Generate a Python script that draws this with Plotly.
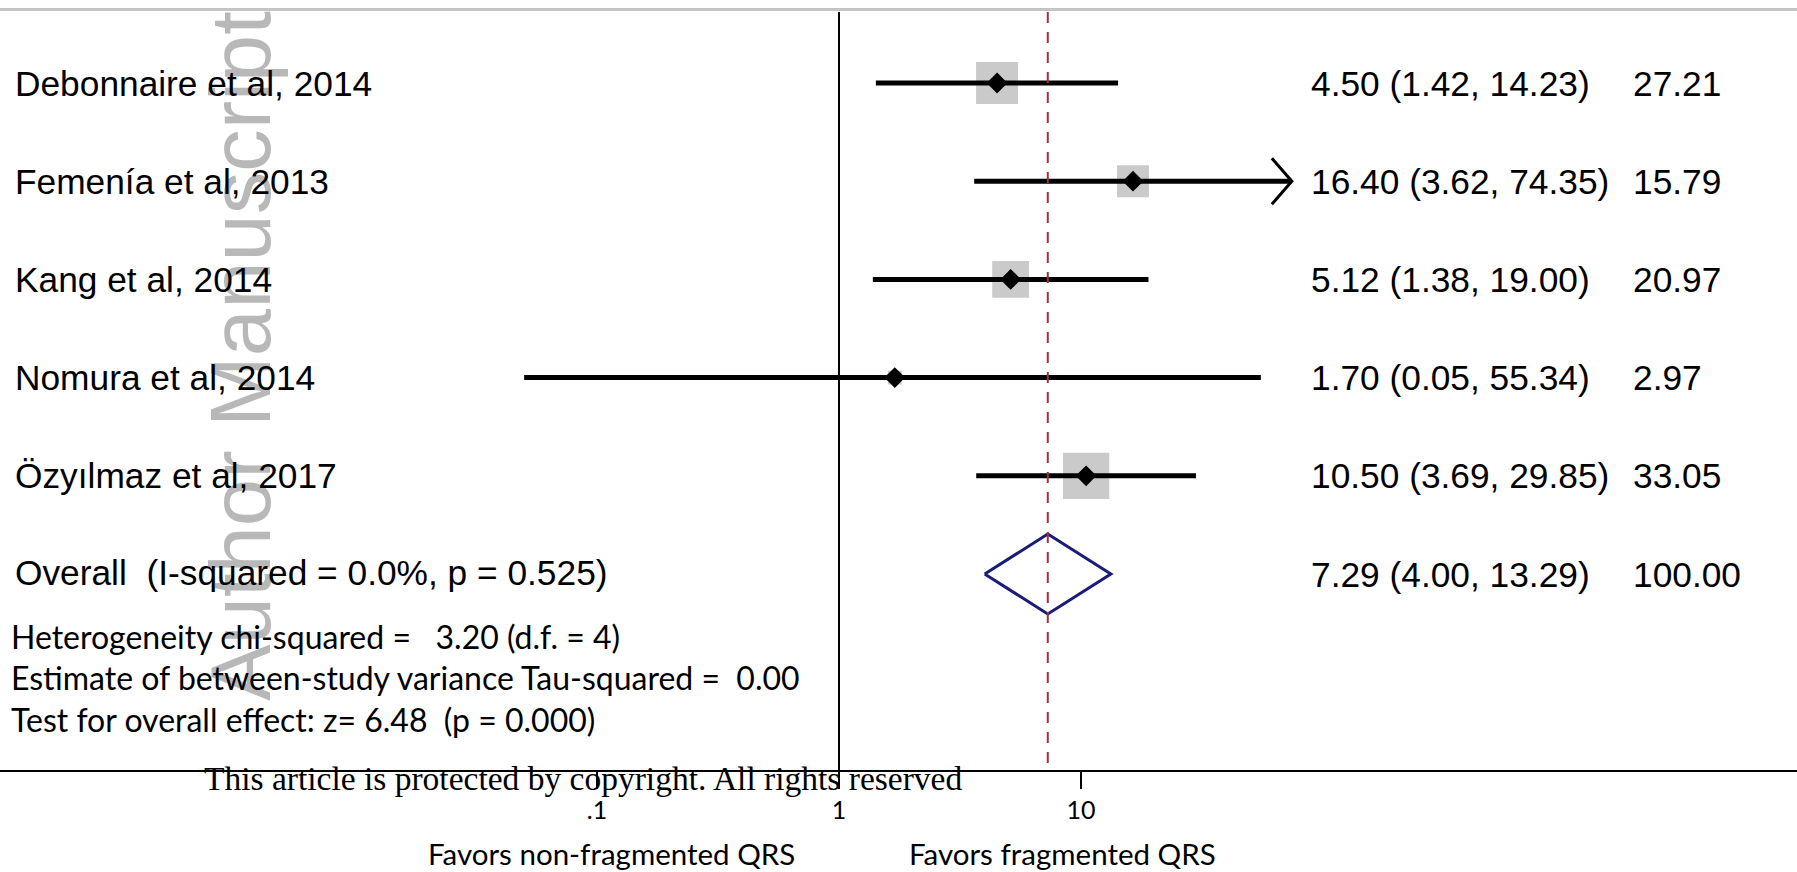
import plotly.graph_objects as go
import numpy as np

# ---------------- data ----------------
studies = ["Debonnaire et al, 2014", "Femenía et al, 2013", "Kang et al, 2014",
           "Nomura et al, 2014", "Özyılmaz et al, 2017"]
es = [4.50, 16.40, 5.12, 1.70, 10.50]
lo = [1.42, 3.62, 1.38, 0.05, 3.69]
hi = [14.23, 74.35, 19.00, 55.34, 29.85]
weights = [27.21, 15.79, 20.97, 2.97, 33.05]
arrow_right = [False, True, False, False, False]

overall_label = "Overall  (I-squared = 0.0%, p = 0.525)"
overall_es, overall_lo, overall_hi = 7.29, 4.00, 13.29
overall_weight = 100.00

stats_lines = ["Heterogeneity chi-squared =   3.20 (d.f. = 4)",
               "Estimate of between-study variance Tau-squared =  0.00",
               "Test for overall effect: z= 6.48  (p = 0.000)"]
tick_vals = [0.1, 1, 10]
tick_text = [".1", "1", "10"]
favors_left = "Favors non-fragmented QRS"
favors_right = "Favors fragmented QRS"
copyright_text = "This article is protected by copyright. All rights reserved"
watermark = "Author Manuscript"

# ---------------- geometry / style ----------------
W, H = 1797, 872
PLOT_BOTTOM = 770          # px, axis line
X_ONE = 839                # px of x = 1
DECADE = 242               # px per decade
ROW0 = 83                  # px of first row
ROW_STEP = 98.2            # px per row

xr = [-X_ONE / DECADE, (W - X_ONE) / DECADE]
yr = [(PLOT_BOTTOM - ROW0) / ROW_STEP, -ROW0 / ROW_STEP]

def px_x(p):
    return p / W

def px_y(p):
    return (PLOT_BOTTOM - p) / PLOT_BOTTOM

def nb(s):
    return s.replace("  ", "\u00a0\u00a0")

SANS = "Liberation Sans, Arial, sans-serif"
CAL = "Lato, Carlito, sans-serif"
SERIF = "Liberation Serif, Times New Roman, serif"

rows = list(range(len(studies)))
overall_row = len(studies)

fig = go.Figure()

# gray weight boxes
fig.add_trace(go.Scatter(
    x=es, y=rows, mode="markers",
    marker=dict(symbol="square", size=[8.05 * np.sqrt(w) for w in weights],
                color="#b3b3b3", line=dict(width=0)),
    hoverinfo="skip"))

# CI lines
cx, cy = [], []
for e_lo, e_hi, r in zip(lo, hi, rows):
    cx += [e_lo, e_hi, None]
    cy += [r, r, None]
fig.add_trace(go.Scatter(x=cx, y=cy, mode="lines",
                         line=dict(color="black", width=5), hoverinfo="skip"))

# arrow heads (open chevron) for truncated CIs
ax_, ay_ = [], []
back = 10 ** (20 / DECADE)
arm = 23 / ROW_STEP
for e_hi, r, a in zip(hi, rows, arrow_right):
    if a:
        ax_ += [e_hi / back, e_hi, e_hi / back, None]
        ay_ += [r - arm, r, r + arm, None]
fig.add_trace(go.Scatter(x=ax_, y=ay_, mode="lines",
                         line=dict(color="black", width=3), hoverinfo="skip"))

# point estimates
fig.add_trace(go.Scatter(x=es, y=rows, mode="markers",
                         marker=dict(symbol="diamond", size=16, color="black",
                                     line=dict(width=0)),
                         hoverinfo="skip"))

# overall diamond
dh = 40 / ROW_STEP
fig.add_trace(go.Scatter(
    x=[overall_lo, overall_es, overall_hi, overall_es, overall_lo],
    y=[overall_row, overall_row - dh, overall_row, overall_row + dh, overall_row],
    mode="lines", line=dict(color="#1c1c78", width=3), hoverinfo="skip"))

shapes = []
# top gray border
shapes.append(dict(type="line", xref="paper", yref="paper", x0=0, x1=1,
                   y0=px_y(9.5), y1=px_y(9.5),
                   line=dict(color="#c4c4c4", width=3)))
# null line at 1
shapes.append(dict(type="line", xref="x", yref="paper", x0=1, x1=1,
                   y0=px_y(12), y1=0, line=dict(color="black", width=2)))
# overall effect dashed line
shapes.append(dict(type="line", xref="x", yref="paper", x0=overall_es, x1=overall_es,
                   y0=px_y(12), y1=0,
                   line=dict(color="#a3313a", width=2, dash="11px,9px")))

ann = []
# watermark (behind the text)
ann.append(dict(text=watermark, xref="paper", yref="paper", x=px_x(240), y=px_y(356),
                xanchor="center", yanchor="middle", textangle=-90, showarrow=False,
                font=dict(family=SANS, size=85, color="#b8b8b8")))

for s, r in zip(studies, rows):
    ann.append(dict(text=s, xref="paper", yref="y", x=px_x(13), y=r,
                    xanchor="left", yanchor="middle", showarrow=False,
                    font=dict(family=SANS, size=35.3, color="black")))
ann.append(dict(text=nb(overall_label), xref="paper", yref="y", x=px_x(13), y=overall_row - 0.02,
                xanchor="left", yanchor="middle", showarrow=False,
                font=dict(family=SANS, size=35.3, color="black")))

all_es = es + [overall_es]
all_lo = lo + [overall_lo]
all_hi = hi + [overall_hi]
all_w = weights + [overall_weight]
for i in range(len(all_es)):
    ann.append(dict(text=f"{all_es[i]:.2f} ({all_lo[i]:.2f}, {all_hi[i]:.2f})",
                    xref="paper", yref="y", x=px_x(1308.5), y=i,
                    xanchor="left", yanchor="middle", showarrow=False,
                    font=dict(family=SANS, size=35.3, color="black")))
    ann.append(dict(text=f"{all_w[i]:.2f}", xref="paper", yref="y", x=px_x(1630.5), y=i,
                    xanchor="left", yanchor="middle", showarrow=False,
                    font=dict(family=SANS, size=35.3, color="black")))

for s, p in zip(stats_lines, [636, 677, 719]):
    ann.append(dict(text=nb(s), xref="paper", yref="paper", x=px_x(9), y=px_y(p),
                    xanchor="left", yanchor="middle", showarrow=False,
                    font=dict(family=CAL, size=32, color="black")))

ann.append(dict(text=favors_left, xref="paper", yref="paper", x=px_x(611), y=px_y(853),
                xanchor="center", yanchor="middle", showarrow=False,
                font=dict(family=CAL, size=29.5, color="black")))
ann.append(dict(text=favors_right, xref="paper", yref="paper", x=px_x(1062), y=px_y(853),
                xanchor="center", yanchor="middle", showarrow=False,
                font=dict(family=CAL, size=29.5, color="black")))
ann.append(dict(text=copyright_text, xref="paper", yref="paper", x=px_x(202), y=px_y(778),
                xanchor="left", yanchor="middle", showarrow=False,
                font=dict(family=SERIF, size=33.5, color="black")))

fig.update_layout(
    width=W, height=H,
    margin=dict(l=0, r=0, t=0, b=H - PLOT_BOTTOM, pad=0),
    paper_bgcolor="white", plot_bgcolor="white",
    showlegend=False,
    shapes=shapes, annotations=ann,
    xaxis=dict(type="log", range=xr, domain=[0, 1], showgrid=False, zeroline=False,
               showline=True, linecolor="black", linewidth=2,
               ticks="outside", ticklen=17, tickwidth=2, tickcolor="black",
               tickvals=tick_vals, ticktext=tick_text,
               tickfont=dict(family=CAL, size=25, color="black")),
    yaxis=dict(range=yr, visible=False, showgrid=False, zeroline=False),
)

fig.write_html("out.html", config={"displayModeBar": False},
               post_script="document.body.style.margin='0';document.body.style.overflow='hidden';")
